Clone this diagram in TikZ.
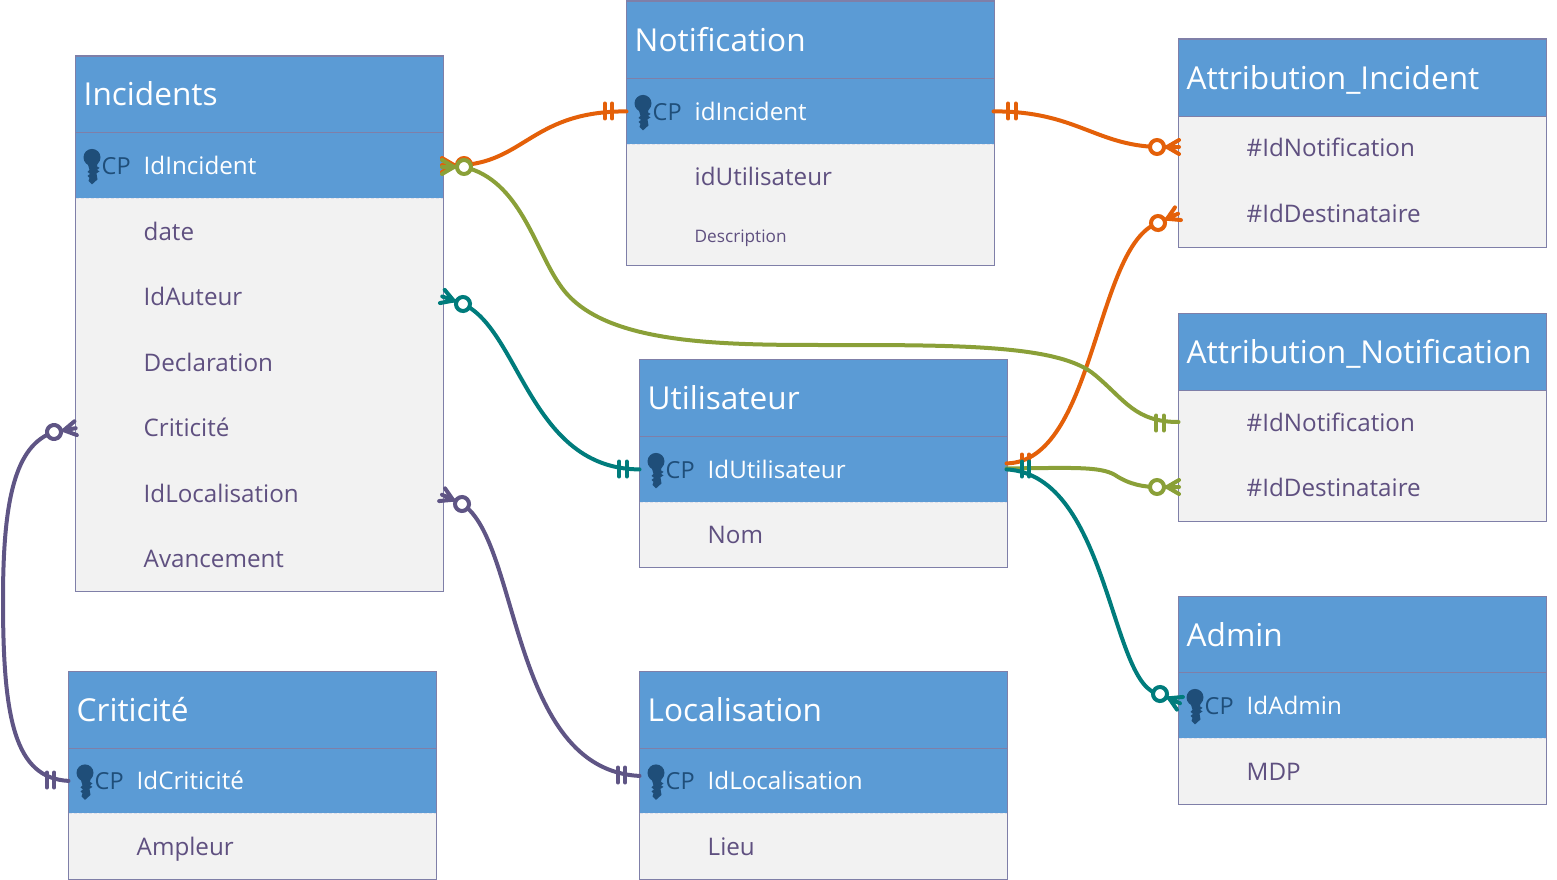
\documentclass[tikz,border=0pt]{standalone}
\usepackage{fontspec}
\setmainfont{Open Sans}
\usetikzlibrary{calc}
\definecolor{hblue}{HTML}{5B9BD5}
\definecolor{bodyg}{HTML}{F2F2F2}
\definecolor{edge}{HTML}{7F7FA8}
\definecolor{txt}{HTML}{5F5080}
\definecolor{keyc}{HTML}{1F4E79}
\definecolor{orangeL}{HTML}{E46009}
\definecolor{greenL}{HTML}{8AA038}
\definecolor{tealL}{HTML}{007C7C}
\definecolor{purpleL}{HTML}{5F5585}
\tikzset{
  x=1pt,y=-1pt,
  tbox/.style={rectangle,draw=edge,line width=1pt,fill=bodyg,inner sep=0,outer sep=0,minimum width=368pt},
  hbox/.style={rectangle,draw=edge,line width=0.8pt,fill=hblue,inner sep=0,outer sep=0,minimum width=368pt},
  rowbox/.style={rectangle,inner sep=0,outer sep=0,minimum width=367pt},
  ttl/.style={anchor=west,inner sep=0,text=white,text height=27pt,text depth=3pt,font=\fontsize{31.6}{36}\selectfont},
  cptxt/.style={anchor=west,inner sep=0,text=keyc,text height=21pt,text depth=3pt,font=\fontsize{23.5}{26}\selectfont},
  ktxt/.style={anchor=west,inner sep=0,text=white,text height=21pt,text depth=3pt,font=\fontsize{24.2}{26}\selectfont},
  rtxt/.style={anchor=west,inner sep=0,text=txt,text height=21pt,text depth=3pt,font=\fontsize{24.2}{26}\selectfont},
  stxt/.style={anchor=west,inner sep=0,text=txt,text height=14pt,text depth=1pt,font=\fontsize{17.2}{20}\selectfont},
  link/.style={line width=4pt,line cap=round},
  pics/crowmark/.style={code={
    \draw[link,#1] (10,0) -- (22,-7) (10,0) -- (22,0) (10,0) -- (22,7) (6,0) -- (10,0);
    \draw[line width=4pt,#1,fill=white] (0,0) circle[radius=7];
  }},
  pics/barmark/.style={code={
    \draw[link,#1] (-3.7,-7.5) -- (-3.7,7.5) (3.7,-7.5) -- (3.7,7.5);
  }},
}
% #1 name, #2 x, #3 top, #4 header bottom, #5 bottom, #6 title
\newcommand{\tablebox}[6]{
  \node[tbox,anchor=north west,minimum height={(#5)-(#3)}] (#1) at (#2,#3) {};
  \node[hbox,anchor=north west,minimum height={(#4)-(#3)}] (#1-h) at (#2,#3) {};
  \node[ttl] (#1-title) at ($(#1-h.west)+(8.5,0)$) {#6};
}
% #1 name, #2 x, #3 top, #4 bottom, #5 text
\newcommand{\keyrow}[5]{
  \node[rowbox,fill=hblue,anchor=north west,minimum height={(#4)-(#3)}] (#1) at ($(#2,#3)+(0.5,0.4)$) {};
  \draw[edge,line width=0.9pt] (#1.north west) -- (#1.north east);
  \draw[white!75!edge,line width=1pt,densely dashed] (#1.south west) -- (#1.south east);
  \fill[keyc] ($(#1.west)+(16.5,-8)$) ellipse[x radius=8.5,y radius=8.5];
  \fill[keyc] ($(#1.west)+(11.5,-4)$) -- ++(11,0) -- ++(-1,5) -- ++(2.5,1.5) -- ++(-2.5,2) -- ++(2.5,1.5) -- ++(-3,2) -- ++(1,6) -- ++(-5.5,5) -- ++(-3.5,-3.5) -- ++(1,-3) -- ++(-2,-2) -- ++(2.5,-2) -- ++(-2.5,-2) -- ++(2,-2) -- cycle;
  \node[cptxt] (#1-cp) at ($(#1.west)+(26,0)$) {CP};
  \node[ktxt] (#1-t) at ($(#1.west)+(68,0)$) {#5};
}
% #1 name, #2 x, #3 centre y, #4 text
\newcommand{\plainrow}[4]{
  \node[rowbox,anchor=west,minimum height=60pt] (#1) at (#2+0.5,#3) {};
  \node[rtxt] (#1-t) at ($(#1.west)+(68,0)$) {#4};
}
\begin{document}
\begin{tikzpicture}
\useasboundingbox (0,0) rectangle (1557,880);

\tablebox{inc}{75}{56}{132}{591}{Incidents}
\keyrow{inc-k}{75}{132}{198}{IdIncident}
\plainrow{inc-a}{75}{231}{date}
\plainrow{inc-b}{75}{296}{IdAuteur}
\plainrow{inc-c}{75}{362}{Declaration}
\plainrow{inc-d}{75}{427}{Criticité}
\plainrow{inc-e}{75}{493}{IdLocalisation}
\plainrow{inc-f}{75}{558}{Avancement}

\tablebox{notif}{626}{1}{78}{265}{Notification}
\keyrow{notif-k}{626}{78}{144}{idIncident}
\plainrow{notif-a}{626}{176}{idUtilisateur}
\node[rowbox,anchor=west,minimum height=50pt] (notif-b) at (626.5,236) {};
\node[stxt] (notif-b-t) at ($(notif-b.west)+(68,0)$) {Description};

\tablebox{ai}{1178}{39}{116}{247}{Attribution\_Incident}
\plainrow{ai-a}{1178}{148}{\#IdNotification}
\plainrow{ai-b}{1178}{213}{\#IdDestinataire}

\tablebox{an}{1178}{313}{390}{521}{Attribution\_Notification}
\plainrow{an-a}{1178}{422}{\#IdNotification}
\plainrow{an-b}{1178}{487}{\#IdDestinataire}

\tablebox{util}{639}{359}{436}{567}{Utilisateur}
\keyrow{util-k}{639}{436}{502}{IdUtilisateur}
\plainrow{util-a}{639}{534}{Nom}

\tablebox{loc}{639}{671}{748}{879}{Localisation}
\keyrow{loc-k}{639}{748}{813}{IdLocalisation}
\plainrow{loc-a}{639}{846}{Lieu}

\tablebox{crit}{68}{671}{748}{879}{Criticité}
\keyrow{crit-k}{68}{748}{813}{IdCriticité}
\plainrow{crit-a}{68}{846}{Ampleur}

\tablebox{adm}{1178}{596}{672}{804}{Admin}
\keyrow{adm-k}{1178}{672}{738}{IdAdmin}
\plainrow{adm-a}{1178}{771}{MDP}

% crow-foot centres
\coordinate (o1) at (464,165);
\coordinate (o2) at (1157,147);
\coordinate (o3) at (1158,223);
\coordinate (g1) at (464,167);
\coordinate (g2) at (1157,487);
\coordinate (t1) at (463,304);
\coordinate (t2) at (1160,694);
\coordinate (p1) at (462,504);
\coordinate (p2) at (54,432);

% orange
\draw[link,orangeL] (o1) .. controls (525,160) and (535,111) .. (notif-k.west);
\draw[link,orangeL] (notif-k.east) .. controls (1075,111) and (1095,145) .. (o2);
\draw[link,orangeL] ($(util-k.east)+(0,-6)$) .. controls (1095,462) and (1095,245) .. (o3);
\pic at (608.5,111) {barmark=orangeL};
\pic at (1012,111) {barmark=orangeL};
\pic at (1025.5,462) {barmark=orangeL};
\pic[rotate=180] at (o1) {crowmark=orangeL};
\pic at (o2) {crowmark=orangeL};
\pic[rotate=25] at (o3) {crowmark=orangeL};

% green
\draw[link,greenL] (g1) .. controls (520,180) and (535,250) .. (560,285) .. controls (600,345) and (720,345) .. (830,345) .. controls (960,345) and (1060,345) .. (1095,375) .. controls (1125,400) and (1135,422) .. (an-a.west);
\draw[link,greenL] ($(util-k.east)+(0,-1)$) .. controls (1070,468) and (1100,466) .. (1115,475) .. controls (1130,485) and (1145,487) .. (g2);
\pic at (1160,423) {barmark=greenL};
\pic[rotate=180] at (g1) {crowmark=greenL};
\pic at (g2) {crowmark=greenL};

% teal
\draw[link,tealL] (util-k.east) .. controls (1110,475) and (1110,690) .. (t2);
\draw[link,tealL] (t1) .. controls (520,330) and (530,469) .. (util-k.west);
\pic at (623,469) {barmark=tealL};
\pic at (1025.5,469) {barmark=tealL};
\pic[rotate=160] at (t1) {crowmark=tealL};
\pic[rotate=-25] at (t2) {crowmark=tealL};

% purple
\draw[link,purpleL] (p1) .. controls (520,540) and (510,770) .. ($(loc-k.west)+(0,-5)$);
\draw[link,purpleL] (p2) .. controls (15,445) and (3,500) .. (3,600) .. controls (3,720) and (15,778) .. (crit-k.west);
\pic at (621.5,775) {barmark=purpleL};
\pic at (50.5,780) {barmark=purpleL};
\pic[rotate=155] at (p1) {crowmark=purpleL};
\pic[rotate=10] at (p2) {crowmark=purpleL};
\end{tikzpicture}
\end{document}
